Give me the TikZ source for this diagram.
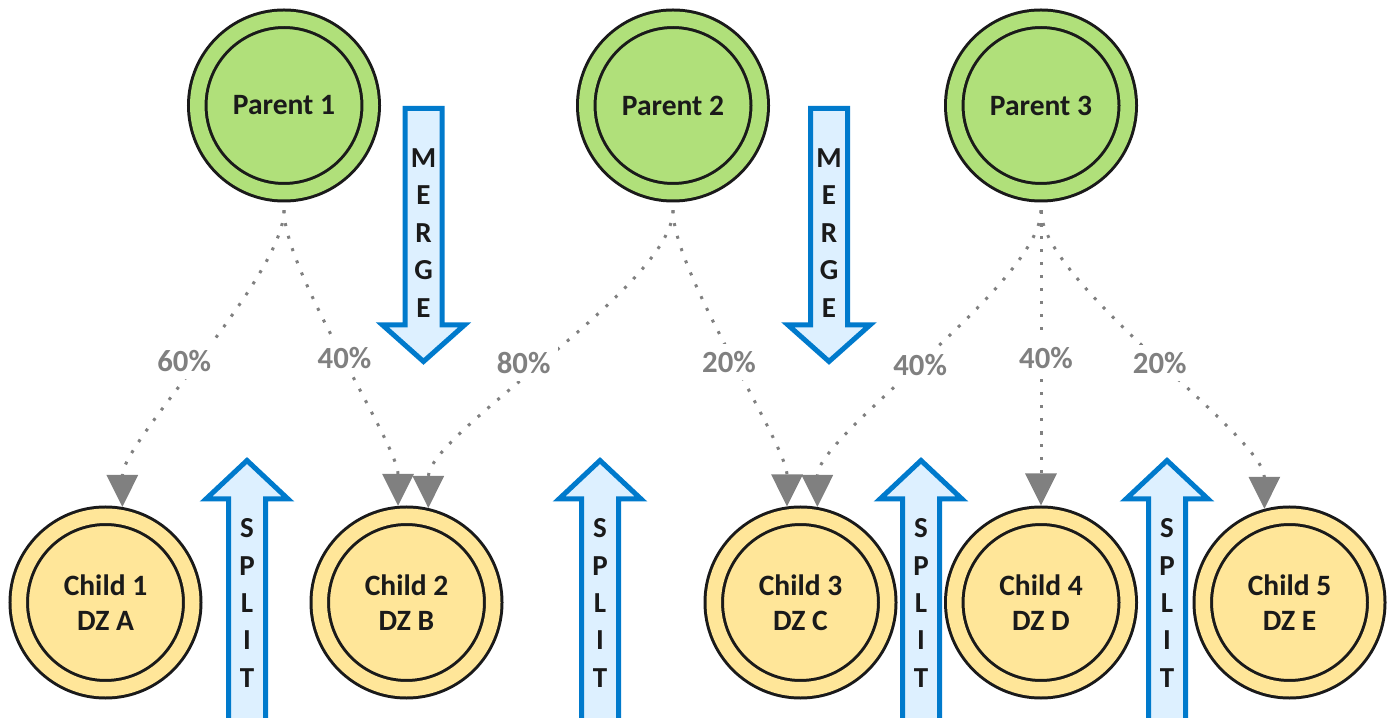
\documentclass[tikz,border=0pt]{standalone}
\usepackage{fontspec}
\setmainfont{Carlito}
\usepackage{tikz}
\usetikzlibrary{arrows.meta}
\usetikzlibrary{calc}

\definecolor{parentgreen}{RGB}{176,224,122}
\definecolor{childyellow}{RGB}{255,230,153}
\definecolor{arrowblue}{RGB}{0,122,204}
\definecolor{arrowfill}{RGB}{221,240,255}
\definecolor{linkgrey}{RGB}{128,128,128}
\definecolor{ink}{RGB}{26,26,26}

\tikzset{
    ring/.style={circle, draw=ink, line width=0.06cm, double distance=0.29cm, minimum size=3.47cm, inner sep=0pt, text=ink, align=center, font=\bfseries\fontsize{16.8pt}{19.9pt}\selectfont},
    parent/.style={ring, fill=parentgreen, double=parentgreen, outer sep=0.36cm},
    child/.style={ring, fill=childyellow, double=childyellow, outer sep=0.205cm},
    link/.style={draw=linkgrey, line width=0.06cm, dash pattern=on 0.06cm off 0.2cm, out=-90, in=90, looseness=0.5, -{Triangle[width=0.62cm,length=0.64cm,fill=linkgrey]}},
    pct/.style={fill=white, text=linkgrey, inner sep=0.15cm, font=\bfseries\fontsize{17.5pt}{20pt}\selectfont},
    block/.style={draw=arrowblue, fill=arrowfill, line width=0.1cm},
    letters/.style={text=ink, align=center, font=\bfseries\fontsize{16.5pt}{21.3pt}\selectfont}
}

\begin{document}
\begin{tikzpicture}
    \def\width{27.86}
    \def\height{14.36}
    \def\shaft{0.37}
    \def\head{0.82}

    \useasboundingbox (0,0) rectangle (\width,-\height);
    \clip (0,0) rectangle (\width,-\height);

    % Parents
    \node[parent] (P1) at (5.68,-2.11) {Parent 1};
    \node[parent] (P2) at (13.46,-2.11) {Parent 2};
    \node[parent] (P3) at (20.82,-2.11) {Parent 3};

    % Children
    \node[child] (C1) at (2.11,-12.05) {Child 1\\DZ A};
    \node[child] (C2) at (8.13,-12.05) {Child 2\\DZ B};
    \node[child] (C3) at (16.01,-12.05) {Child 3\\DZ C};
    \node[child] (C4) at (20.82,-12.05) {Child 4\\DZ D};
    \node[child] (C5) at (25.79,-12.05) {Child 5\\DZ E};

    % Shares
    \draw[link] (P1.south) to node[pct, xshift=-0.38cm, yshift=-0.05cm] {60\%} (C1.80);
    \draw[link] (P1.south) to node[pct, xshift=0.07cm] {40\%} (C2.95);
    \draw[link] (P2.south) to node[pct, xshift=-0.54cm, yshift=-0.07cm] {80\%} (C2.77);
    \draw[link] (P2.south) to node[pct, xshift=-0.02cm, yshift=-0.07cm] {20\%} (C3.98);
    \draw[link] (P3.south) to node[pct, xshift=-0.18cm, yshift=-0.13cm] {40\%} (C3.80);
    \draw[link] (P3.south) to node[pct, xshift=0.1cm] {40\%} (C4.90);
    \draw[link] (P3.south) to node[pct, xshift=0.14cm, yshift=-0.07cm] {20\%} (C5.105);

    % Merge
    \foreach \x/\n in {8.47/M1, 16.58/M2} {
        \draw[block] (\x-\shaft,-2.17) -- (\x+\shaft,-2.17) -- (\x+\shaft,-6.5) -- (\x+\head,-6.5) -- (\x,-7.23) -- (\x-\head,-6.5) -- (\x-\shaft,-6.5) -- cycle;
        \node[letters] (\n) at (\x,-4.66) {M\\E\\R\\G\\E};
    }

    % Split
    \foreach \x/\n in {4.94/S1, 12.0/S2, 18.42/S3, 23.34/S4} {
        \draw[block] (\x-\shaft,-14.6) -- (\x-\shaft,-9.98) -- (\x-\head,-9.98) -- (\x,-9.21) -- (\x+\head,-9.98) -- (\x+\shaft,-9.98) -- (\x+\shaft,-14.6);
        \node[letters] (\n) at (\x,-12.06) {S\\P\\L\\I\\T};
    }
\end{tikzpicture}
\end{document}
